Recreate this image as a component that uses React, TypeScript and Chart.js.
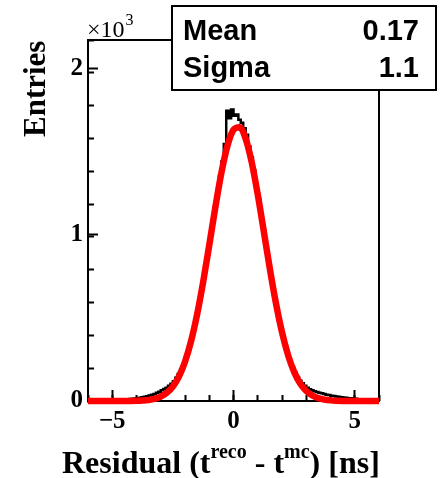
import React, { useEffect, useRef } from 'react';
import { Chart, registerables } from 'chart.js';

Chart.register(...registerables);

// Axis ranges
const X_MIN = -6;
const X_MAX = 6;
const Y_MIN = 0;
const Y_MAX = 2170;

// Histogram: 120 bins of 0.1 ns from -6 to 6 (entries per bin)
const BIN_LO = -6;
const BIN_W = 0.1;
const histCounts = [
  2, 2, 3, 3, 3, 3, 4, 4, 5, 5, 6, 6, 7, 8, 9, 9, 10, 12, 13, 15,
  17, 19, 22, 26, 29, 33, 38, 42, 49, 55, 64, 72, 80, 92, 103, 119, 140, 162, 191, 221,
  265, 309, 360, 414, 483, 551, 632, 712, 805, 899, 990, 1085, 1170, 1265, 1350, 1440, 1545, 1745, 1700, 1752,
  1715, 1722, 1690, 1672, 1640, 1600, 1530, 1465, 1385, 1305, 1215, 1125, 1030, 940, 845, 755, 668, 588, 512, 443,
  380, 328, 277, 237, 201, 171, 145, 122, 106, 92, 80, 71, 65, 59, 54, 50, 46, 42, 38, 36,
  32, 30, 27, 25, 23, 21, 19, 17, 16, 14, 13, 11, 10, 9, 8, 7, 6, 6, 5, 5,
];

// Gaussian fit curve sampled every 0.25 ns from -6 to 6
const FIT_X0 = -6;
const FIT_DX = 0.25;
const fitValues = [
  0, 0, 0, 0, 0.03, 0.08, 0.2, 0.5, 1.3, 2.9, 6.3, 13, 26, 49, 87, 147, 236, 360, 521, 717, 937, 1163, 1371, 1534,
  1630, 1646, 1577, 1436, 1241, 1019, 794, 588, 413, 276, 175, 105, 60, 33, 17, 8.3, 3.8, 1.7, 0.7, 0.3, 0.1, 0, 0, 0, 0,
];

// Ticks
const xMajorTicks = [-5, 0, 5];
const X_MINOR_STEP = 1;
const yMajorTicks = [0, 1000, 2000];
const yTickLabels = ['0', '1', '2'];
const Y_MINOR_STEP = 200;

// Stat box
const statNames = ['Mean', 'Sigma'];
const statValues = ['0.17', '1.1'];

const SERIF = '"Liberation Serif", "Times New Roman", Times, serif';
const SANS = '"Liberation Sans", Arial, Helvetica, sans-serif';

export default function App() {
  const ref = useRef<HTMLCanvasElement>(null);

  useEffect(() => {
    document.body.style.margin = '0';
    const histData = histCounts.map((c, i) => ({ x: BIN_LO + i * BIN_W, y: c }));
    histData.push({ x: BIN_LO + histCounts.length * BIN_W, y: histCounts[histCounts.length - 1] });
    const fitData = fitValues.map((v, i) => ({ x: FIT_X0 + i * FIT_DX, y: v }));

    const decor = {
      id: 'decor',
      beforeDatasetsDraw(chart: any) {
        const { ctx, chartArea } = chart;
        ctx.save();
        ctx.strokeStyle = '#000';
        ctx.lineWidth = 2;
        ctx.strokeRect(chartArea.left, chartArea.top, chartArea.right - chartArea.left, chartArea.bottom - chartArea.top);
        ctx.restore();
      },
      afterDraw(chart: any) {
        const ctx = chart.ctx as CanvasRenderingContext2D;
        ctx.save();
        ctx.fillStyle = '#000';
        ctx.textAlign = 'left';
        ctx.textBaseline = 'alphabetic';

        // X axis title with superscripts
        const mainFont = `bold 32px ${SERIF}`;
        const supFont = `bold 20px ${SERIF}`;
        const parts = [
          { t: 'Residual (t', sup: false },
          { t: 'reco', sup: true },
          { t: ' - t', sup: false },
          { t: 'mc', sup: true },
          { t: ') [ns]', sup: false },
        ];
        let x = 62;
        const base = 473;
        for (const p of parts) {
          ctx.font = p.sup ? supFont : mainFont;
          ctx.fillText(p.t, x, p.sup ? base - 15 : base);
          x += ctx.measureText(p.t).width;
        }

        // Y axis title
        ctx.save();
        ctx.translate(45, 137);
        ctx.rotate(-Math.PI / 2);
        ctx.font = `bold 31px ${SERIF}`;
        ctx.fillText('Entries', 0, 0);
        ctx.restore();

        // x10^3 multiplier
        ctx.font = `24px ${SERIF}`;
        ctx.fillText('\u00d710', 87, 37);
        const w = ctx.measureText('\u00d710').width;
        ctx.font = `16px ${SERIF}`;
        ctx.fillText('3', 87 + w + 1, 25);

        // Stat box
        ctx.fillStyle = '#fff';
        ctx.fillRect(172, 6, 264, 84);
        ctx.strokeStyle = '#000';
        ctx.lineWidth = 2;
        ctx.strokeRect(172, 6, 264, 84);
        ctx.fillStyle = '#000';
        ctx.font = `bold 29px ${SANS}`;
        const rows = [40, 77];
        statNames.forEach((n, i) => {
          ctx.textAlign = 'left';
          ctx.fillText(n, 183, rows[i]);
          ctx.textAlign = 'right';
          ctx.fillText(statValues[i], 419, rows[i]);
        });
        ctx.restore();
      },
    };

    const tickFont = { family: SERIF, weight: 'bold' as const, size: 25 };

    const chart = new Chart(ref.current!, {
      type: 'line',
      data: {
        datasets: [
          {
            label: 'fit',
            data: fitData,
            borderColor: '#ff0000',
            borderWidth: 6.5,
            pointRadius: 0,
            cubicInterpolationMode: 'monotone',
            fill: false,
            clip: false as any,
            order: 0,
          },
          {
            label: 'hist',
            data: histData,
            borderColor: '#000000',
            borderWidth: 2.5,
            pointRadius: 0,
            stepped: true,
            fill: false,
            order: 1,
          },
        ],
      },
      options: {
        animation: false,
        responsive: false,
        devicePixelRatio: 1,
        layout: { padding: { left: 0, top: 40, right: 64, bottom: 0 } },
        plugins: { legend: { display: false }, tooltip: { enabled: false }, title: { display: false } },
        scales: {
          x: {
            type: 'linear',
            position: 'bottom',
            weight: 0,
            min: X_MIN,
            max: X_MAX,
            ticks: { display: false, stepSize: X_MINOR_STEP, includeBounds: false },
            grid: { drawOnChartArea: false, tickLength: -6, tickWidth: 2, tickColor: '#000' },
            border: { display: false },
            afterFit: (s: any) => { s.height = 0; },
          },
          xMajor: {
            type: 'linear',
            position: 'bottom',
            weight: 1,
            min: X_MIN,
            max: X_MAX,
            afterBuildTicks: (s: any) => { s.ticks = xMajorTicks.map((v) => ({ value: v })); },
            ticks: {
              color: '#000',
              font: tickFont,
              padding: 17,
              autoSkip: false,
              maxRotation: 0,
              callback: (v: any) => String(v).replace('-', '\u2212'),
            },
            grid: { drawOnChartArea: false, tickLength: -11, tickWidth: 2, tickColor: '#000' },
            border: { display: true, color: '#000', width: 2 },
            afterFit: (s: any) => { s.height = 77; },
          },
          y: {
            type: 'linear',
            position: 'left',
            weight: 0,
            min: Y_MIN,
            max: Y_MAX,
            ticks: { display: false, stepSize: Y_MINOR_STEP, includeBounds: false },
            grid: { drawOnChartArea: false, tickLength: -6, tickWidth: 2, tickColor: '#000' },
            border: { display: false },
            afterFit: (s: any) => { s.width = 0; },
          },
          yMajor: {
            type: 'linear',
            position: 'left',
            weight: 1,
            min: Y_MIN,
            max: Y_MAX,
            afterBuildTicks: (s: any) => { s.ticks = yMajorTicks.map((v) => ({ value: v })); },
            ticks: {
              color: '#000',
              font: tickFont,
              padding: 15,
              autoSkip: false,
              callback: (v: any) => yTickLabels[yMajorTicks.indexOf(Number(v))] ?? '',
            },
            grid: { drawOnChartArea: false, tickLength: -10, tickWidth: 2, tickColor: '#000' },
            border: { display: true, color: '#000', width: 2 },
            afterFit: (s: any) => { s.width = 88; },
          },
        },
      } as any,
      plugins: [decor],
    });
    return () => chart.destroy();
  }, []);

  return (
    <div style={{ width: 443, height: 478 }}>
      <canvas ref={ref} width={443} height={478} style={{ display: 'block', width: 443, height: 478 }} />
    </div>
  );
}
